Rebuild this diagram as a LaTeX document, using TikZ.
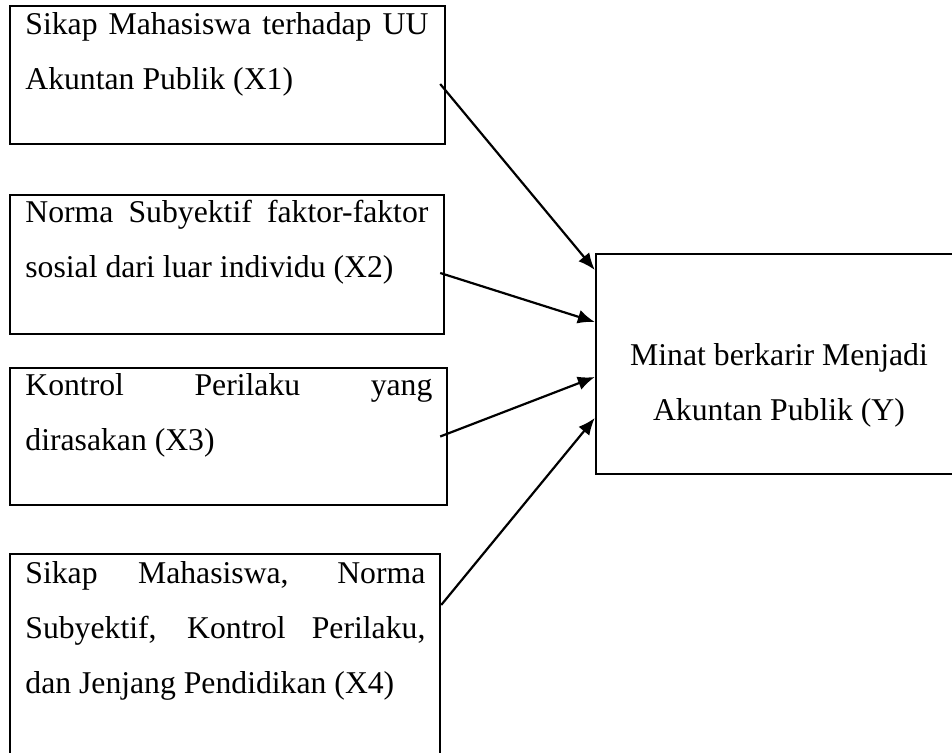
\documentclass[tikz,border=0pt]{standalone}
\usepackage{fontspec}
\setmainfont{Liberation Serif}
\usetikzlibrary{arrows.meta}
\begin{document}
\begin{tikzpicture}[x=0.5pt,y=-0.5pt,
  box/.style={draw,line width=1.2pt,inner sep=0pt},
  txt/.style={anchor=base west,inner sep=0pt,align=justify,font=\fontsize{15.85}{27.5}\selectfont},
  arr/.style={line width=1.1pt,-{Latex[length=8.5pt,width=7pt]}}]
\useasboundingbox (0,0) rectangle (952,753);
\node[box,minimum width=217.5pt,minimum height=69pt] (x1) at (227.5,75) {};
\node[box,minimum width=217pt,minimum height=69.5pt] (x2) at (227,264.5) {};
\node[box,minimum width=218.5pt,minimum height=68.5pt] (x3) at (228.5,436.5) {};
\node[box,minimum width=215pt,minimum height=108pt] (x4) at (225,662) {};
\node[box,minimum width=183pt,minimum height=110pt] (y) at (779,364) {};
\node[txt,text width=201.5pt] (t1) at (25,35) {Sikap Mahasiswa terhadap UU\linebreak Akuntan Publik (X1)};
\node[txt,text width=201.5pt] (t2) at (25,223) {Norma Subyektif faktor-faktor\linebreak sosial dari luar individu (X2)};
\node[txt,text width=203.5pt] (t3) at (25,395) {Kontrol Perilaku yang\linebreak dirasakan (X3)};
\node[txt,text width=200pt] (t4) at (25,583) {Sikap Mahasiswa, Norma\linebreak Subyektif, Kontrol Perilaku,\linebreak dan Jenjang Pendidikan (X4)};
\node[anchor=base,inner sep=0pt,align=center,font=\fontsize{15.85}{27.5}\selectfont] (ty) at (779,420) {Minat berkarir Menjadi\\Akuntan Publik (Y)};
% panah ke Y
\draw[arr] ([xshift=-3pt,yshift=-4.5pt]x1.east) -- ([yshift=47pt]y.west);
\draw[arr] ([xshift=-2.5pt,yshift=-4.25pt]x2.east) -- ([yshift=21pt]y.west);
\draw[arr] ([xshift=-4pt]x3.east) -- ([yshift=-6.5pt]y.west);
\draw[arr] ([yshift=28.5pt]x4.east) -- ([yshift=-27pt]y.west);
\end{tikzpicture}
\end{document}
